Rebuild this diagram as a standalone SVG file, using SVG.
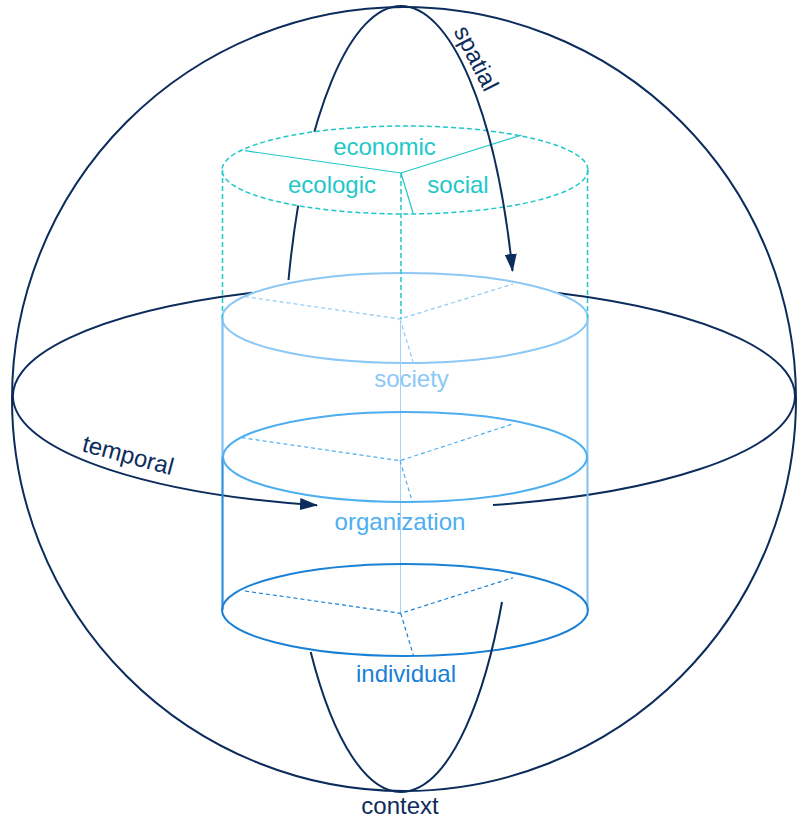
<svg xmlns="http://www.w3.org/2000/svg" width="797" height="819" viewBox="0 0 797 819">
<style>
.navy{fill:none;stroke:#0c2c5c;stroke-width:2}
.lbl{font-family:"Liberation Sans",Arial,sans-serif;font-size:24px;text-anchor:middle}
.tealdash{fill:none;stroke:#1ec8c8;stroke-width:1.5;stroke-dasharray:5 3}
.teal{fill:none;stroke:#1ec8c8;stroke-width:1.2}
.sec{fill:none;stroke-width:1.2;stroke-dasharray:4 3}
</style>
<defs>
<marker id="ah" viewBox="0 0 18 12" refX="17" refY="6" markerWidth="18" markerHeight="12" markerUnits="userSpaceOnUse" orient="auto">
<path d="M0,0 L18,6 L0,12 z" fill="#0c2c5c"/>
</marker>
</defs>

<g id="context-sphere">
<circle class="navy" cx="404" cy="399" r="392"/>
<text class="lbl" x="400" y="814" fill="#0c2c5c">context</text>
</g>

<g id="connectors">
<!-- spatial ellipse, back-left upper arc -->
<path class="navy" d="M288.5,280 A118,393 0 0,1 401,6"/>
<!-- temporal ellipse -->
<path class="navy" d="M252,292.8 A391,112 0 0,0 317,505.2" marker-end="url(#ah)"/>
<path class="navy" d="M493,505 A391,112 0 0,0 558,293"/>
</g>

<g id="dimensions">
<ellipse cx="405" cy="170" rx="183" ry="44" fill="#fff" class="tealdash" style="fill:#fff"/>
<path class="teal" d="M245,150.7 L401,173 L521.7,135 M401,173 L413.3,214"/>
<text class="lbl" x="384.5" y="155" fill="#1ec8c8">economic</text>
<text class="lbl" x="332" y="193" fill="#1ec8c8">ecologic</text>
<text class="lbl" x="458" y="192.5" fill="#1ec8c8">social</text>
</g>

<g id="spatial">
<path class="navy" d="M401,6 A118,393 0 0,1 512.5,271" marker-end="url(#ah)"/>
<text class="lbl" x="469" y="62" fill="#0c2c5c" transform="rotate(63 469 62)">spatial</text>
</g>

<g id="society">
<ellipse cx="405" cy="318" rx="183" ry="45" fill="#fff" stroke="#8cc8f5" stroke-width="2"/>
<path class="sec" stroke="#8cc8f5" d="M245,296.7 L400,319 L513,284 M400,319 L413,361.7"/>
<text class="lbl" x="411.5" y="387" fill="#8cc8f5">society</text>
</g>

<g id="teal-edges">
<path class="tealdash" d="M222.5,170 V318 M587.5,170 V318 M401,173 V319"/>
</g>

<g id="cylinder">
<path d="M400.5,319 V613" stroke="#a6d3f5" stroke-width="1" fill="none"/>
<path d="M222.5,318 V457" stroke="#7ec2f5" stroke-width="2.2" fill="none"/>
<path d="M222.5,457 V610" stroke="#2e90e2" stroke-width="2.2" fill="none"/>
<path d="M587.5,318 V457" stroke="#8cc8f5" stroke-width="2" fill="none"/>
<path d="M587.5,457 V610" stroke="#7ebff2" stroke-width="2" fill="none"/>
</g>

<g id="organization">
<ellipse cx="405" cy="457" rx="182" ry="45" fill="none" stroke="#4daef0" stroke-width="2"/>
<path class="sec" stroke="#4daef0" d="M241.7,437.7 L400,460.7 L511.7,424.3 M400,460.7 L412.3,501.7"/>
<text class="lbl" x="400" y="530" fill="#4daef0">organization</text>
</g>

<g id="individual">
<ellipse cx="405" cy="610" rx="183" ry="46" fill="none" stroke="#1a80d5" stroke-width="2"/>
<path class="sec" stroke="#1a80d5" d="M245,591 L400.7,613.3 L513,577.7 M400.7,613.3 L413.3,655"/>
<text class="lbl" x="406" y="682" fill="#1a80d5">individual</text>
</g>

<g id="temporal">
<text class="lbl" x="126" y="463" fill="#0c2c5c" transform="rotate(15 126 463)">temporal</text>
</g>

<g id="spatial-bottom">
<path class="navy" d="M310.7,652 A118,393 0 0,0 502,602"/>
</g>
</svg>
